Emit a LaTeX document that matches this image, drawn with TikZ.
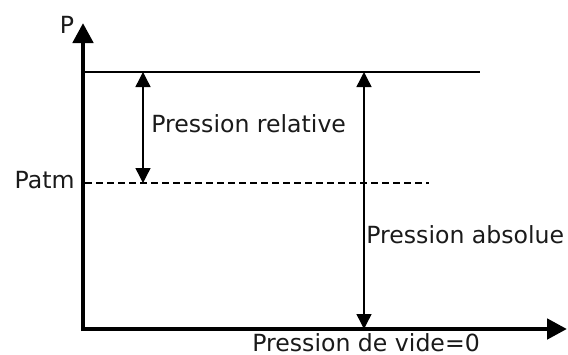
\documentclass[tikz,border=0pt]{standalone}
\usepackage{fontspec}
\setmainfont{DejaVu Sans}
\usepackage{xcolor}
\usepackage{tikz}
\usetikzlibrary{arrows.meta}
\definecolor{PrLine}{HTML}{000000}
\definecolor{PrText}{HTML}{1A1A1A}

\begin{document}
\begin{tikzpicture}[x=0.5pt,y=-0.5pt,
  axis/.style={PrLine,line width=2.4pt,-{Triangle[width=10pt,length=10pt]}},
  level/.style={PrLine,line width=0.8pt},
  patmline/.style={PrLine,line width=0.8pt,dash pattern=on 3.5pt off 2pt},
  measure/.style={PrLine,line width=0.7pt,{Triangle[width=7.5pt,length=7.5pt]}-{Triangle[width=7.5pt,length=7.5pt]}},
  lbl/.style={PrText,inner sep=0pt,font=\fontsize{11.8}{14}\selectfont}]
\path[use as bounding box] (0,0) rectangle (568,354);
% axes
\coordinate (O) at (83,329);
\coordinate (ytop) at (83,23);
\coordinate (xend) at (567,329);
\draw[axis] (83,331) -- (ytop);
\draw[axis] (81,329) -- (xend);
\node[lbl,anchor=base] (plbl) at (67,33) {P};
% levels
\coordinate (top0) at (85,72);
\coordinate (top1) at (480,72);
\coordinate (atm0) at (85,183);
\coordinate (atm1) at (429,183);
\draw[level] (top0) -- (top1);
\draw[patmline] (atm0) -- (atm1);
\node[lbl,anchor=base east] (patm) at (75,188) {Patm};
% pressures
\coordinate (rel0) at (143,72);
\coordinate (rel1) at (143,183);
\coordinate (abs0) at (364,72);
\coordinate (abs1) at (364,329);
\draw[measure] (rel0) -- (rel1);
\draw[measure] (abs0) -- (abs1);
\node[lbl,anchor=base west] (relative) at (151,132) {Pression relative};
\node[lbl,anchor=base west] (absolue) at (366,243) {Pression absolue};
\node[lbl,anchor=base west] (vide) at (252,351) {Pression de vide=0};
\end{tikzpicture}
\end{document}
